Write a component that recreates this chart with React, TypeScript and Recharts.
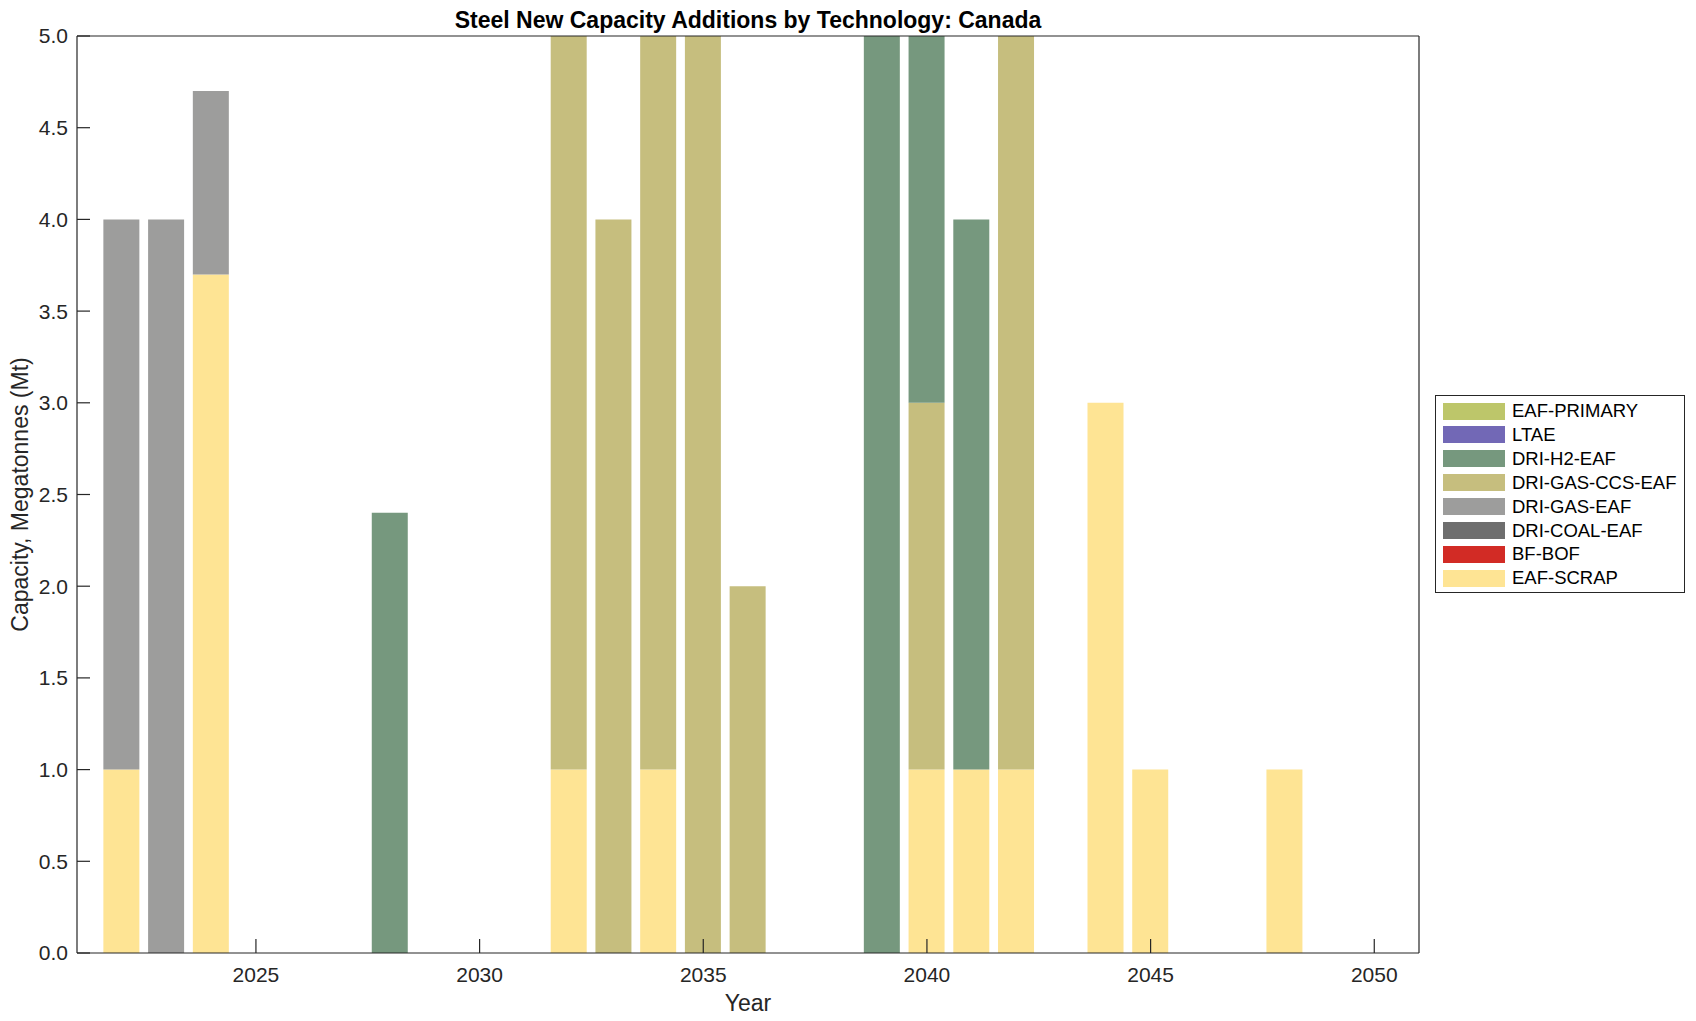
import React from "react"
import { BarChart, Bar, XAxis, YAxis, Legend, Label } from "recharts"

// years with non-zero additions (all other years are empty)
const years = [2022, 2023, 2024, 2028, 2032, 2033, 2034, 2035, 2036, 2039, 2040, 2041, 2042, 2044, 2045, 2048]

const eafScrap = [1, 0, 3.7, 0, 1, 0, 1, 0, 0, 0, 1, 1, 1, 3, 1, 1]
const bfBof = [0, 0, 0, 0, 0, 0, 0, 0, 0, 0, 0, 0, 0, 0, 0, 0]
const driCoalEaf = [0, 0, 0, 0, 0, 0, 0, 0, 0, 0, 0, 0, 0, 0, 0, 0]
const driGasEaf = [3, 4, 1, 0, 0, 0, 0, 0, 0, 0, 0, 0, 0, 0, 0, 0]
// bars above 5 are cut off by the axis, so their tops are guesses
const driGasCcsEaf = [0, 0, 0, 0, 5, 4, 5, 6, 2, 0, 2, 0, 5, 0, 0, 0]
const driH2Eaf = [0, 0, 0, 2.4, 0, 0, 0, 0, 0, 6, 3, 3, 0, 0, 0, 0]
const ltae = [0, 0, 0, 0, 0, 0, 0, 0, 0, 0, 0, 0, 0, 0, 0, 0]
const eafPrimary = [0, 0, 0, 0, 0, 0, 0, 0, 0, 0, 0, 0, 0, 0, 0, 0]

const xTicks = [2025, 2030, 2035, 2040, 2045, 2050]
const yTicks = [0, 0.5, 1, 1.5, 2, 2.5, 3, 3.5, 4, 4.5, 5]

// stacking order, bottom first
const series = [
  { key: "EAF-SCRAP", values: eafScrap, color: "#fee494" },
  { key: "BF-BOF", values: bfBof, color: "#d22b25" },
  { key: "DRI-COAL-EAF", values: driCoalEaf, color: "#6e6e6e" },
  { key: "DRI-GAS-EAF", values: driGasEaf, color: "#9d9d9c" },
  { key: "DRI-GAS-CCS-EAF", values: driGasCcsEaf, color: "#c6be7e" },
  { key: "DRI-H2-EAF", values: driH2Eaf, color: "#76987e" },
  { key: "LTAE", values: ltae, color: "#7268b6" },
  { key: "EAF-PRIMARY", values: eafPrimary, color: "#bdc66a" },
]

const data = years.map((year, i) => {
  const row: Record<string, number | null> = { year }
  series.forEach((s) => {
    row[s.key] = s.values[i] > 0 ? s.values[i] : null
  })
  return row
})

const FONT = "'Liberation Sans', Arial, Helvetica, sans-serif"
const AXIS = "#262626"

function LegendBox() {
  const items = [...series].reverse()
  return (
    <div
      style={{
        position: "relative",
        width: 250,
        height: 198,
        border: `1.2px solid ${AXIS}`,
        boxSizing: "border-box",
        background: "#fff",
        fontFamily: FONT,
      }}
    >
      {items.map((s, i) => (
        <div
          key={s.key}
          style={{
            position: "absolute",
            left: 7,
            top: 15 + i * 23.9 - 11,
            height: 22,
            display: "flex",
            alignItems: "center",
          }}
        >
          <div style={{ width: 62, height: 17, background: s.color }} />
          <span style={{ marginLeft: 7, fontSize: 18.5, color: "#000", lineHeight: "22px" }}>{s.key}</span>
        </div>
      ))}
    </div>
  )
}

function YLabel(props: any) {
  const vb = props.viewBox
  const cx = vb.x + 20
  const cy = vb.y + vb.height / 2
  return (
    <text
      x={cx}
      y={cy}
      transform={`rotate(-90, ${cx}, ${cy})`}
      textAnchor="middle"
      dominantBaseline="central"
      fontSize={23}
      fill={AXIS}
      fontFamily={FONT}
    >
      Capacity, Megatonnes (Mt)
    </text>
  )
}

export default function App() {
  return (
    <div style={{ position: "absolute", left: 0, top: 0, width: 1696, height: 1021, background: "#fff" }}>
      <BarChart
        width={1696}
        height={1021}
        data={data}
        margin={{ top: 35, right: 276, bottom: 0, left: 0 }}
        barCategoryGap={0}
        style={{ fontFamily: FONT }}
      >
        <XAxis
          dataKey="year"
          type="number"
          domain={[2021, 2051]}
          ticks={xTicks}
          allowDataOverflow
          height={68}
          tickSize={-14}
          tickMargin={28}
          tick={{ fill: AXIS, fontSize: 21 }}
          axisLine={{ stroke: AXIS, strokeWidth: 1.2 }}
          tickLine={{ stroke: AXIS, strokeWidth: 1.2 }}
        >
          <Label value="Year" position="insideBottom" offset={10} fontSize={23} fill={AXIS} />
        </XAxis>
        <XAxis
          xAxisId="top"
          orientation="top"
          dataKey="year"
          type="number"
          domain={[2021, 2051]}
          ticks={xTicks}
          allowDataOverflow
          height={1}
          tickSize={-14}
          tick={false}
          axisLine={{ stroke: AXIS, strokeWidth: 1.2 }}
          tickLine={{ stroke: AXIS, strokeWidth: 1.2 }}
        >
          <Label
            value="Steel New Capacity Additions by Technology: Canada"
            position="top"
            offset={7}
            fontSize={23}
            fontWeight="bold"
            fill="#000"
          />
        </XAxis>
        <YAxis
          type="number"
          domain={[0, 5]}
          ticks={yTicks}
          allowDataOverflow
          width={77}
          tickSize={-13}
          tickMargin={22}
          tickFormatter={(v: number) => v.toFixed(1)}
          tick={{ fill: AXIS, fontSize: 21 }}
          axisLine={{ stroke: AXIS, strokeWidth: 1.2 }}
          tickLine={{ stroke: AXIS, strokeWidth: 1.2 }}
        >
          <Label content={YLabel} />
        </YAxis>
        <YAxis
          yAxisId="right"
          orientation="right"
          type="number"
          domain={[0, 5]}
          ticks={yTicks}
          allowDataOverflow
          width={1}
          tickSize={-13}
          tick={false}
          axisLine={{ stroke: AXIS, strokeWidth: 1.2 }}
          tickLine={{ stroke: AXIS, strokeWidth: 1.2 }}
        />
        <Legend
          layout="vertical"
          align="center"
          verticalAlign="middle"
          wrapperStyle={{ left: 1435, top: 395, width: 250, height: 198 }}
          content={() => <LegendBox />}
        />
        {series.map((s) => (
          <Bar
            key={s.key}
            dataKey={s.key}
            name={s.key}
            stackId="cap"
            fill={s.color}
            barSize={36}
            isAnimationActive={false}
          />
        ))}
      </BarChart>
    </div>
  )
}
